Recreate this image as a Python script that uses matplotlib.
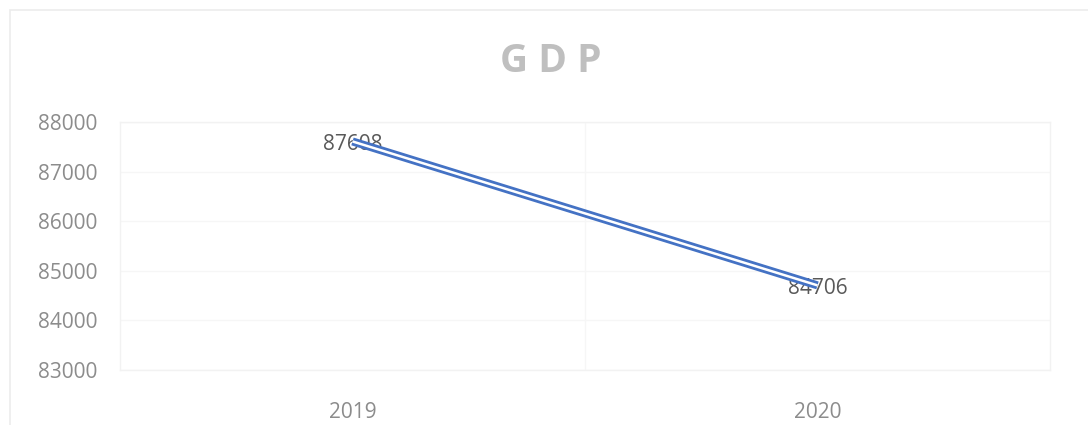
import matplotlib.pyplot as plt
import matplotlib.patheffects as pe
from matplotlib.patches import Rectangle

years = ['2019', '2020']
gdp = [87608, 84706]
yticks = [83000, 84000, 85000, 86000, 87000, 88000]

plt.rcParams['font.family'] = ['Open Sans', 'DejaVu Sans']

fig = plt.figure(figsize=(10.88, 4.25), dpi=100)
ax = fig.add_axes([120 / 1088, 1 - 370 / 425, 930 / 1088, 248 / 425])

# outer chart border (runs off the right and bottom of the picture)
fig.patches.append(Rectangle((10 / 1088, -0.1), 1.2, 1 - 10 / 425 + 0.1,
                             transform=fig.transFigure, fill=False,
                             edgecolor='#ececec', linewidth=1.2))

x = range(len(years))
# double line: wide blue stroke with a thin white core
ax.plot(x, gdp, color='#4472c4', linewidth=5.8, solid_capstyle='butt', zorder=3)
ax.plot(x, gdp, color='white', linewidth=1.8, solid_capstyle='butt', zorder=4)

for xi, v in zip(x, gdp):
    ax.annotate(str(v), (xi, v), xytext=(0, -2), textcoords='offset points',
                ha='center', va='center', fontsize=15, color='#595959', zorder=2)

ax.set_xlim(-0.5, 1.5)
ax.set_ylim(83000, 88000)
ax.set_yticks(yticks)
ax.set_yticklabels([str(t) for t in yticks])
ax.set_xticks(list(x))
ax.set_xticklabels(years)
ax.set_xticks([0.5], minor=True)

ax.grid(axis='y', color='#f6f6f6', linewidth=1)
ax.grid(axis='x', which='minor', color='#f6f6f6', linewidth=1)
ax.tick_params(axis='both', which='both', length=0, labelsize=15,
               labelcolor='#8c8c8c')
ax.tick_params(axis='y', pad=16)
ax.tick_params(axis='x', pad=23)
for s in ax.spines.values():
    s.set_color('#f2f2f2')
    s.set_linewidth(1)

fig.text(551 / 1088, 1 - 61 / 425, 'G D P', ha='center', va='center',
         fontsize=28, fontweight='bold', color='#bfbfbf')

fig.savefig('out.png', dpi=100)
